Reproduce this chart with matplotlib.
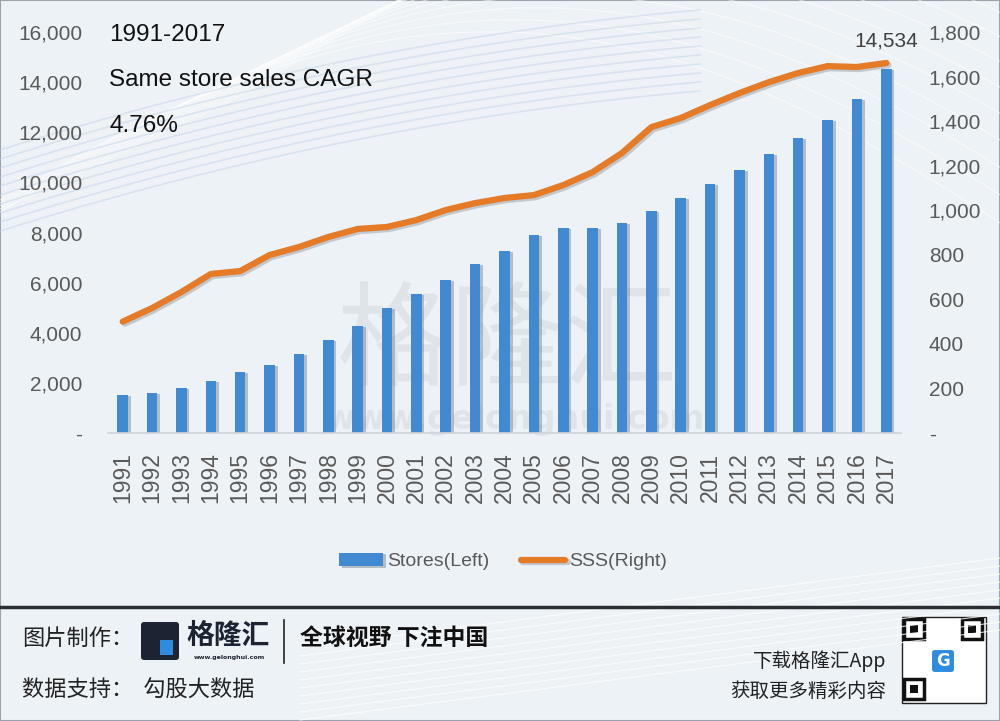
import numpy as np
import matplotlib
matplotlib.use('Agg')
import matplotlib.pyplot as plt
import matplotlib.patheffects as pe
from matplotlib.patches import Rectangle, FancyBboxPatch
from matplotlib.ticker import FuncFormatter

plt.rcParams['font.family'] = ['Liberation Sans', 'DejaVu Sans']

years = [str(y) for y in range(1991, 2018)]
stores = [1520, 1600, 1800, 2080, 2440, 2720, 3160, 3710, 4270, 4990,
          5550, 6110, 6750, 7270, 7910, 8190, 8190, 8390, 8870, 9390,
          9940, 10500, 11140, 11780, 12500, 13340, 14534]
sss = [500, 561, 633, 714, 727, 799, 835, 880, 916, 925,
       956, 1001, 1032, 1055, 1068, 1113, 1171, 1257, 1373, 1414,
       1472, 1526, 1575, 1616, 1647, 1643, 1661]
left_ticks = [0, 2000, 4000, 6000, 8000, 10000, 12000, 14000, 16000]
right_ticks = [0, 200, 400, 600, 800, 1000, 1200, 1400, 1600, 1800]
notes = ['1991-2017', 'Same store sales CAGR', '4.76%']

bar_blue = '#4189d0'
line_orange = '#e57a27'
tick_grey = '#595959'
cjk = ['Noto Sans CJK SC', 'DejaVu Sans']

fig = plt.figure(figsize=(10, 7.21), dpi=100)
fig.patch.set_facecolor('#edf2f6')

# faint decorative curves in the background
bg = fig.add_axes([0, 0, 1, 1], zorder=-5)
bg.set_xlim(0, 1000)
bg.set_ylim(721, 0)
bg.axis('off')
t = np.linspace(0, 1, 200)
for k in range(14):
    x0 = -100 + k * 25
    xs = x0 + t * 1100
    ys = 260 - k * 12 - 250 * np.sin(t * np.pi * 0.9) + t * 40
    bg.plot(xs, ys, color='white', lw=0.8, alpha=0.6)
for k in range(10):
    xs = t * 700
    ys = 150 + k * 9 - 220 * t + 80 * t ** 2
    bg.plot(xs, ys, color='#bcd2e8', lw=1.2, alpha=0.45)
for k in range(10):
    xs = 300 + t * 700
    ys = 720 - k * 8 - 90 * t
    bg.plot(xs, ys, color='white', lw=0.8, alpha=0.8)
bg.add_patch(Rectangle((0, 0), 1000, 721, facecolor='none', edgecolor='#9aa3ab', lw=1.5))

# watermark
bg.text(508, 345, '格隆汇', fontsize=82, color='#b0b5ba', alpha=0.22,
        ha='center', va='center', family=cjk)
bg.text(515, 420, 'www.gelonghui.com', fontsize=24, color='#b0b5ba', alpha=0.22,
        ha='center', va='center', fontweight='bold', family=['DejaVu Sans'])

ax = fig.add_axes([0.108, 0.3994, 0.793, 0.5562])
ax.set_facecolor('none')
x = np.arange(len(years))
bars = ax.bar(x, stores, width=0.36, color=bar_blue, zorder=2,
              path_effects=[pe.withSimplePatchShadow(offset=(2, -1), shadow_rgbFace='#7f8a94', alpha=0.5)])
ax.set_xlim(-0.5, len(years) - 0.5)
ax.set_ylim(0, 16000)
ax.set_yticks(left_ticks)
ax.yaxis.set_major_formatter(FuncFormatter(lambda v, p: '-' if v == 0 else f'{int(v):,}'))
ax.set_xticks(x)
ax.set_xticklabels(years, rotation=90)
ax.tick_params(axis='both', length=0, labelsize=15, colors=tick_grey)
ax.tick_params(axis='y', pad=18.5)
ax.tick_params(axis='x', pad=14, labelsize=16.5)
for s in ['top', 'left', 'right']:
    ax.spines[s].set_visible(False)
ax.spines['bottom'].set_color('#cfd4d8')
ax.spines['bottom'].set_linewidth(1.2)

ax2 = ax.twinx()
line, = ax2.plot(x, sss, color=line_orange, lw=4.5, solid_capstyle='round', zorder=3,
                 path_effects=[pe.SimpleLineShadow(offset=(1.5, -1.5), shadow_color='#7f8a94', alpha=0.4),
                               pe.Normal()])
ax2.set_ylim(0, 1800)
ax2.set_yticks(right_ticks)
ax2.yaxis.set_major_formatter(FuncFormatter(lambda v, p: '-' if v == 0 else f'{int(v):,}'))
ax2.tick_params(axis='y', length=0, labelsize=15, colors=tick_grey, pad=20)
for s in ['top', 'left', 'right', 'bottom']:
    ax2.spines[s].set_visible(False)

ax.annotate(f'{stores[-1]:,}', (x[-1], stores[-1]), xytext=(0, 13), textcoords='offset points',
            ha='center', va='bottom', fontsize=15, color='#404040')

for i, s in enumerate(notes):
    ax.text(-0.45, 15900 - i * 1820, s, fontsize=17.5, color='#111111', ha='left', va='center')

leg = fig.legend([bars, line], ['Stores(Left)', 'SSS(Right)'], loc='center',
                 bbox_to_anchor=(0.503, 0.221), ncol=2, frameon=False, fontsize=14,
                 handlelength=2.3, handletextpad=0.2, columnspacing=1.6)
for txt in leg.get_texts():
    txt.set_color(tick_grey)

# footer
bg.plot([0, 1000], [607, 607], color='#2b2f33', lw=2.5)
bg.text(22, 638, '图片制作：', fontsize=16, family=cjk, color='#222222', va='center')
bg.add_patch(FancyBboxPatch((141, 622), 38, 38, boxstyle='round,pad=0,rounding_size=3',
                            facecolor='#1c2433', edgecolor='none'))
bg.add_patch(Rectangle((160, 640), 13, 15, facecolor='#2d8be0', edgecolor='none'))
bg.text(186, 636, '格隆汇', fontsize=20, family=cjk, color='#1c2433', va='center', fontweight='bold')
bg.text(229, 658, 'www.gelonghui.com', fontsize=4.5, color='#1c2433', ha='center', va='center',
        family=['DejaVu Sans'], fontweight='bold')
bg.plot([284, 284], [620, 663], color='#222222', lw=1.2)
bg.text(300, 638, '全球视野 下注中国', fontsize=16.5, family=cjk, color='#111111', va='center',
        fontweight='bold')
bg.text(22, 690, '数据支持：  勾股大数据', fontsize=16, family=cjk, color='#222222', va='center')
bg.text(886, 661, '下载格隆汇App', fontsize=14, family=cjk, color='#222222', va='center', ha='right')
bg.text(886, 691, '获取更多精彩内容', fontsize=14, family=cjk, color='#222222', va='center', ha='right')

# qr code placeholder
bg.add_patch(Rectangle((902, 617), 84, 86, facecolor='white', edgecolor='#222222', lw=1))
for (qx, qy) in [(904, 619), (962, 619), (904, 679)]:
    bg.add_patch(Rectangle((qx, qy), 20, 20, facecolor='none', edgecolor='#111111', lw=2.5))
    bg.add_patch(Rectangle((qx + 6, qy + 6), 8, 8, facecolor='#111111', edgecolor='none'))
bg.add_patch(FancyBboxPatch((931, 649), 24, 24, boxstyle='round,pad=0,rounding_size=4',
                            facecolor='#2d8be0', edgecolor='white', lw=1.5))
bg.text(943, 661, 'G', fontsize=12, color='white', ha='center', va='center', fontweight='bold',
        family=['DejaVu Sans'])

fig.savefig('out.png', dpi=100, facecolor=fig.get_facecolor())
